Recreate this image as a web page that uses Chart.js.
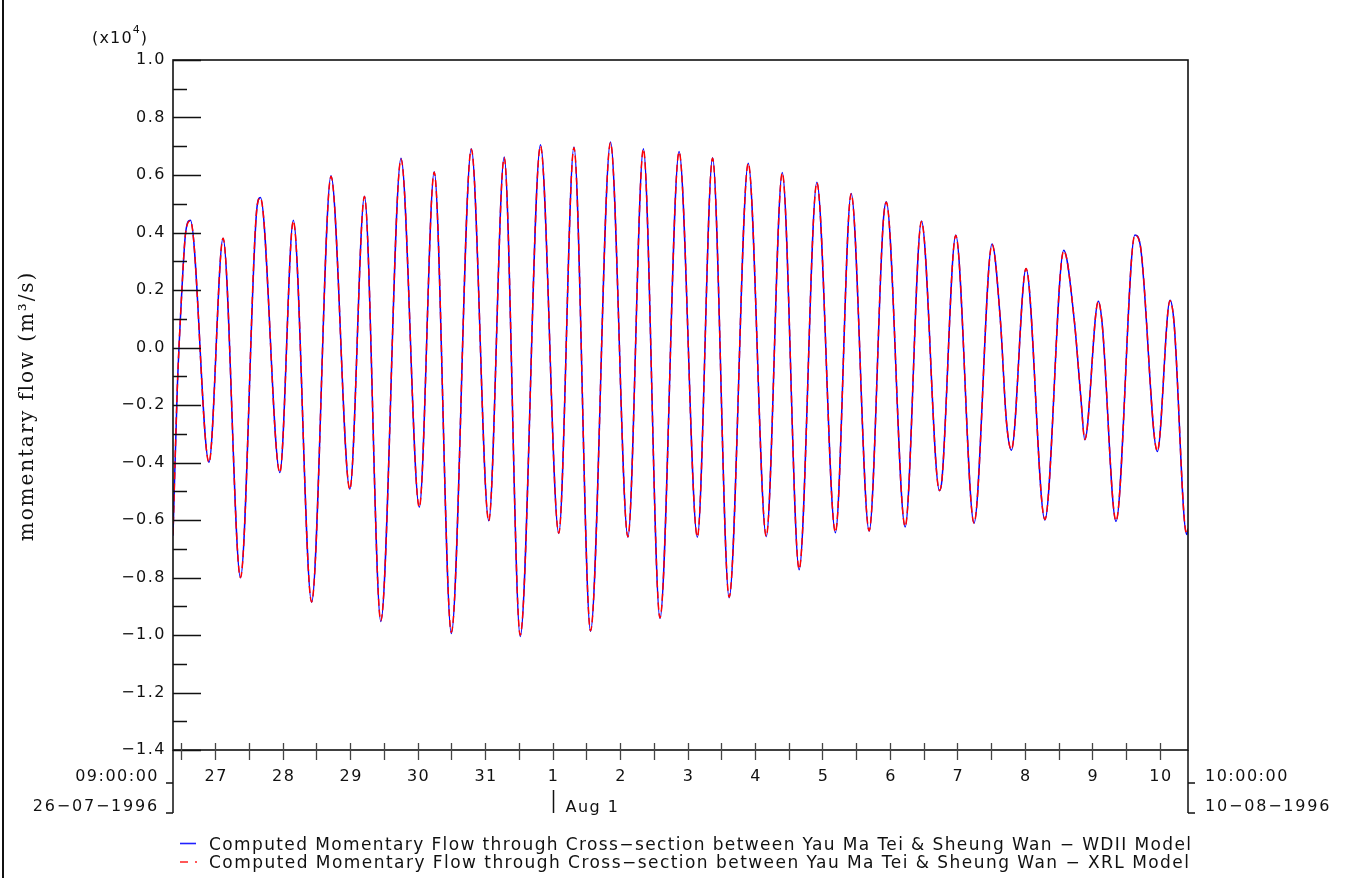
<!DOCTYPE html>
<html>
<head>
<meta charset="utf-8">
<script src="https://cdn.jsdelivr.net/npm/chart.js@4"></script>
<style>
  html, body { margin: 0; padding: 0; background: #fff; }
  canvas { display: block; }
</style>
</head>
<body>
<canvas id="flowChart" width="1351" height="878"></canvas>
<script>
// Hours since 26-07-1996 09:00:00 (end = 10-08-1996 10:00:00 = 361 h)
const hours = [
  0, 1.5, 3.0, 4.5, 6.2, 12.8, 17.8, 24.0, 29.9, 31.1,
  38.0, 42.8, 49.3, 56.2, 62.9, 68.1, 73.9, 81.1, 87.6, 92.9,
  99.0, 106.1, 112.3, 117.8, 123.5, 130.7, 137.2, 142.6, 148.5, 155.6,
  161.8, 167.3, 173.2, 180.0, 186.5, 191.9, 197.8, 204.6, 211.0, 216.7,
  222.7, 229.0, 235.6, 241.2, 247.6, 252.6, 253.7, 260.4, 266.2, 272.6,
  273.5, 278.4, 284.9, 291.3, 294.3, 296.4, 298.2, 303.4, 310.1, 316.8,
  320.6, 322.9, 324.3, 329.1, 330.4, 335.4, 342.1, 344.0, 350.1, 354.6,
  356.0, 360.5, 361
];

// Momentary flow (x10^4 m3/s)
const wdiiFlow = [
  -0.655, -0.15, 0.17, 0.40, 0.443, -0.399, 0.380, -0.801, 0.49, 0.522,
  -0.435, 0.443, -0.886, 0.597, -0.493, 0.526, -0.953, 0.658, -0.556, 0.611,
  -0.995, 0.691, -0.603, 0.663, -1.005, 0.705, -0.647, 0.697, -0.987, 0.715,
  -0.660, 0.691, -0.942, 0.682, -0.660, 0.660, -0.870, 0.641, -0.658, 0.609,
  -0.773, 0.575, -0.644, 0.536, -0.639, 0.435, 0.507, -0.624, 0.440, -0.498,
  -0.459, 0.391, -0.611, 0.360, 0.09, -0.255, -0.357, 0.275, -0.600, 0.338,
  0.09, -0.176, -0.321, 0.161, 0.09, -0.605, 0.391, 0.357, -0.362, 0.164,
  0.09, -0.650, -0.63
];

// XRL run sits on top of the WDII run at this scale
const xrlFlow = [
  -0.650, -0.15, 0.17, 0.40, 0.440, -0.400, 0.380, -0.800, 0.49, 0.520,
  -0.435, 0.440, -0.885, 0.595, -0.493, 0.525, -0.950, 0.655, -0.555, 0.610,
  -0.990, 0.690, -0.603, 0.660, -1.000, 0.700, -0.645, 0.695, -0.985, 0.712,
  -0.658, 0.690, -0.940, 0.680, -0.658, 0.658, -0.868, 0.640, -0.656, 0.607,
  -0.770, 0.573, -0.642, 0.535, -0.637, 0.435, 0.505, -0.622, 0.438, -0.497,
  -0.459, 0.390, -0.610, 0.358, 0.09, -0.255, -0.355, 0.275, -0.598, 0.336,
  0.09, -0.176, -0.320, 0.160, 0.09, -0.603, 0.390, 0.357, -0.360, 0.163,
  0.09, -0.648, -0.63
];

const yLabelTicks = [1.0, 0.8, 0.6, 0.4, 0.2, 0.0, -0.2, -0.4, -0.6, -0.8, -1.0, -1.2, -1.4];
const yMinorTicks = [0.9, 0.7, 0.5, 0.3, 0.1, -0.1, -0.3, -0.5, -0.7, -0.9, -1.1, -1.3];

// tick every 12 h (noon / midnight)
const xTickHours = [
  3, 15, 27, 39, 51, 63, 75, 87, 99, 111, 123, 135, 147, 159, 171,
  183, 195, 207, 219, 231, 243, 255, 267, 279, 291, 303, 315, 327, 339, 351
];
const dayHours = [15, 39, 63, 87, 111, 135, 159, 183, 207, 231, 255, 279, 303, 327, 351];
const dayLabels = ['27', '28', '29', '30', '31', '1', '2', '3', '4', '5', '6', '7', '8', '9', '10'];
const monthMarkHour = 135;
const monthMarkLabel = 'Aug 1';
const startLabels = ['09:00:00', '26\u221207\u22121996'];
const endLabels = ['10:00:00', '10\u221208\u22121996'];

const legendLabels = [
  'Computed Momentary Flow through Cross\u2212section between Yau Ma Tei & Sheung Wan \u2212 WDII Model',
  'Computed Momentary Flow through Cross\u2212section between Yau Ma Tei & Sheung Wan \u2212 XRL Model'
];
const yTitle = 'momentary flow (m\u00b3/s)';

const SANS = '"DejaVu Sans", sans-serif';

function fmtTick(v) {
  return v.toFixed(1).replace('-', '\u2212');
}

function fitSpacing(ctx, str, width) {
  ctx.letterSpacing = '0px';
  const w = ctx.measureText(str).width;
  return (width - w) / (str.length - 1);
}

function put(ctx, str, px, py, align, spacing) {
  ctx.letterSpacing = (spacing || 0) + 'px';
  ctx.textAlign = align;
  ctx.fillText(str, px, py);
}

const axesPlugin = {
  id: 'axesPlugin',
  beforeDraw(chart) {
    const ctx = chart.ctx;
    ctx.save();
    ctx.fillStyle = '#fff';
    ctx.fillRect(0, 0, chart.width, chart.height);
    ctx.restore();
  },
  afterDraw(chart) {
    const { ctx, chartArea: a } = chart;
    const x = chart.scales.x, y = chart.scales.y;
    ctx.save();
    ctx.strokeStyle = '#111';
    ctx.fillStyle = '#111';
    ctx.lineCap = 'butt';

    // outer left rule
    ctx.lineWidth = 2;
    ctx.beginPath();
    ctx.moveTo(3, 0); ctx.lineTo(3, chart.height);
    ctx.stroke();

    // plot frame
    ctx.lineWidth = 1.6;
    ctx.strokeRect(a.left, a.top, a.right - a.left, a.bottom - a.top);

    // y ticks, inside the frame
    ctx.lineWidth = 1.5;
    ctx.beginPath();
    yLabelTicks.forEach(v => {
      const py = Math.round(y.getPixelForValue(v)) + 0.5;
      ctx.moveTo(a.left, py); ctx.lineTo(a.left + 28, py);
    });
    yMinorTicks.forEach(v => {
      const py = Math.round(y.getPixelForValue(v)) + 0.5;
      ctx.moveTo(a.left, py); ctx.lineTo(a.left + 14, py);
    });
    ctx.stroke();

    // x ticks, across the bottom axis
    ctx.strokeStyle = '#444';
    ctx.lineWidth = 1.3;
    ctx.beginPath();
    xTickHours.forEach(h => {
      const px = Math.round(x.getPixelForValue(h)) + 0.5;
      ctx.moveTo(px, a.bottom - 7); ctx.lineTo(px, a.bottom + 10);
    });
    ctx.stroke();

    // date brackets at both ends
    ctx.strokeStyle = '#111';
    ctx.lineWidth = 1.5;
    ctx.beginPath();
    ctx.moveTo(a.left, a.bottom); ctx.lineTo(a.left, 813);
    ctx.moveTo(a.left - 7, 783); ctx.lineTo(a.left, 783);
    ctx.moveTo(a.left - 7, 813); ctx.lineTo(a.left, 813);
    ctx.moveTo(a.right, a.bottom); ctx.lineTo(a.right, 813);
    ctx.moveTo(a.right, 783); ctx.lineTo(a.right + 7, 783);
    ctx.moveTo(a.right, 813); ctx.lineTo(a.right + 7, 813);
    const mx = Math.round(x.getPixelForValue(monthMarkHour)) + 0.5;
    ctx.moveTo(mx, 790); ctx.lineTo(mx, 813);
    ctx.stroke();

    // tick labels
    ctx.font = '16px ' + SANS;
    ctx.textBaseline = 'middle';
    yLabelTicks.forEach(v => {
      put(ctx, fmtTick(v), a.left - 7, y.getPixelForValue(v), 'right', 1.5);
    });
    dayHours.forEach((h, i) => {
      put(ctx, dayLabels[i], x.getPixelForValue(h) + 1, 777, 'center', 1.5);
    });
    put(ctx, startLabels[0], a.left - 14, 777, 'right', 1.5);
    put(ctx, startLabels[1], a.left - 14, 807, 'right', 1.8);
    put(ctx, endLabels[0], a.right + 17, 777, 'left', 1.5);
    put(ctx, endLabels[1], a.right + 17, 807, 'left', 1.8);
    put(ctx, monthMarkLabel, mx + 12, 808, 'left', 1.5);

    // (x10^4)
    put(ctx, '(x10', 92, 39, 'left', 1.2);
    ctx.letterSpacing = '1.2px';
    const w = ctx.measureText('(x10').width;
    ctx.font = '11px ' + SANS;
    put(ctx, '4', 92 + w, 30, 'left', 0);
    ctx.font = '16px ' + SANS;
    put(ctx, ')', 92 + w + 8, 39, 'left', 0);

    // y axis title
    ctx.save();
    ctx.translate(28, 406);
    ctx.rotate(-Math.PI / 2);
    ctx.font = '20px "DejaVu Serif", serif';
    put(ctx, yTitle, 0, 0, 'center', fitSpacing(ctx, yTitle, 268));
    ctx.restore();

    // legend
    ctx.lineWidth = 1.6;
    ctx.strokeStyle = '#2020ff';
    ctx.beginPath();
    ctx.moveTo(180, 843.5); ctx.lineTo(196, 843.5);
    ctx.stroke();
    ctx.strokeStyle = '#ff2020';
    ctx.beginPath();
    ctx.moveTo(180, 862); ctx.lineTo(188, 862);
    ctx.moveTo(195, 862); ctx.lineTo(197, 862);
    ctx.stroke();
    ctx.font = '17px ' + SANS;
    put(ctx, legendLabels[0], 209, 846, 'left', fitSpacing(ctx, legendLabels[0], 982));
    put(ctx, legendLabels[1], 209, 864, 'left', fitSpacing(ctx, legendLabels[1], 980));

    ctx.restore();
  }
};

function toPoints(vals) {
  return hours.map((h, i) => ({ x: h, y: vals[i] }));
}

new Chart(document.getElementById('flowChart'), {
  type: 'line',
  data: {
    datasets: [
      {
        label: 'XRL Model',
        data: toPoints(xrlFlow),
        borderColor: '#ff0000',
        borderWidth: 1.5,
        borderDash: [7, 4],
        order: 0
      },
      {
        label: 'WDII Model',
        data: toPoints(wdiiFlow),
        borderColor: '#0000ff',
        borderWidth: 1.5,
        order: 1
      }
    ]
  },
  options: {
    responsive: false,
    animation: false,
    devicePixelRatio: 1,
    layout: { padding: { left: 173, top: 60, right: 163, bottom: 128 } },
    elements: {
      point: { radius: 0 },
      line: { cubicInterpolationMode: 'monotone', fill: false }
    },
    plugins: { legend: { display: false }, tooltip: { enabled: false } },
    scales: {
      x: { type: 'linear', min: 0, max: 361, display: false },
      y: { type: 'linear', min: -1.4, max: 1.0, display: false }
    }
  },
  plugins: [axesPlugin]
});
</script>
</body>
</html>
